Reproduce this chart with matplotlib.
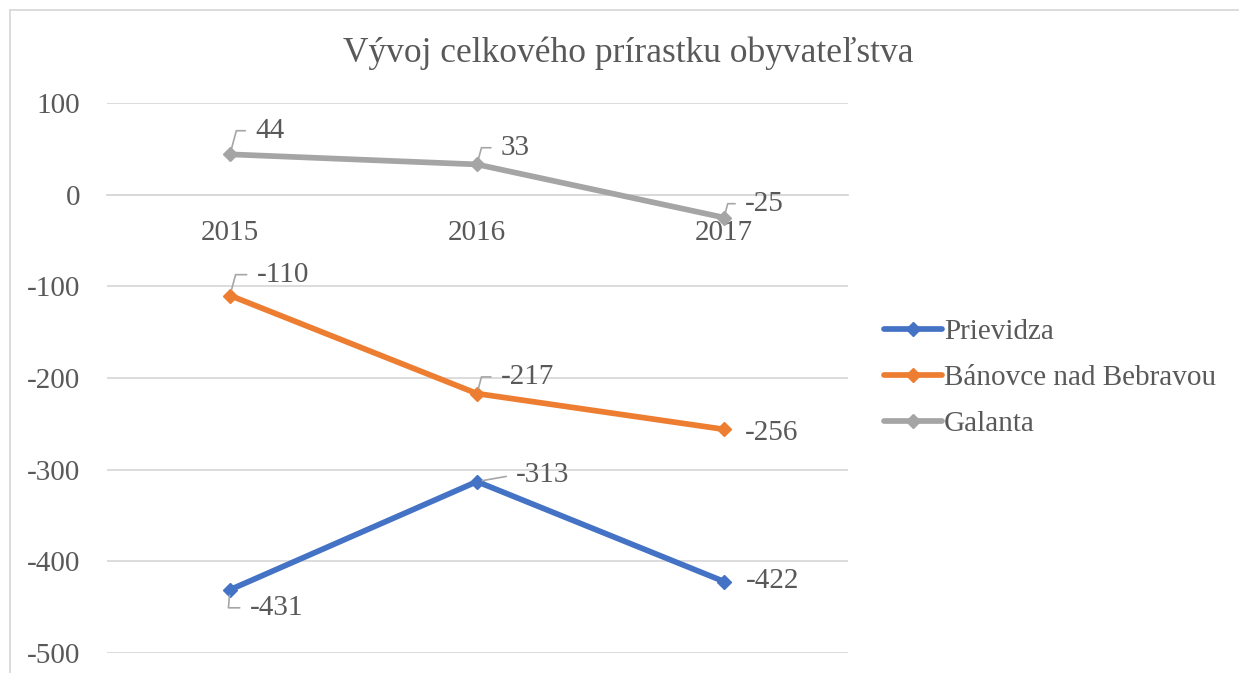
import matplotlib

matplotlib.use("Agg")
import matplotlib.pyplot as plt
from matplotlib.patches import Rectangle

years = ["2015", "2016", "2017"]
prievidza = [-431, -313, -422]
banovce = [-110, -217, -256]
galanta = [44, 33, -25]

series = [
    ("Prievidza", prievidza, "#4472C4"),
    ("Bánovce nad Bebravou", banovce, "#ED7D31"),
    ("Galanta", galanta, "#A5A5A5"),
]

# label offsets (points) and leader angle at the point, None = no leader
label_pos = {
    "Prievidza": [(14, -13, -95), (28, 5, 10), (16, 0, None)],
    "Bánovce nad Bebravou": [(19, 15, 75), (17, 12, 75), (15, -3, None)],
    "Galanta": [(18, 17, 75), (17, 12, 75), (15, 10, 75)],
}

TXT = "#595959"
GRID = "#D9D9D9"
FS = 21
plt.rcParams["font.family"] = ["Liberation Serif", "DejaVu Serif"]
plt.rcParams["axes.unicode_minus"] = False

W, H = 1239, 673
fig = plt.figure(figsize=(W / 100, H / 100), dpi=100)
ax = fig.add_axes([106.5 / W, 20 / H, (847.5 - 106.5) / W, (653 - 103) / H])

x = range(len(years))
for name, vals, col in series:
    ax.plot(x, vals, color=col, lw=4.1, marker="D", ms=7.5, label=name,
            solid_capstyle="round", zorder=3)
    for i, v in enumerate(vals):
        dx, dy, ang = label_pos[name][i]
        props = None
        if ang is not None:
            props = dict(arrowstyle="-", color="#A6A6A6", lw=1.2,
                         connectionstyle=f"angle,angleA=0,angleB={ang},rad=0",
                         relpos=(0, 0.5), shrinkA=5, shrinkB=4)
        ax.annotate(str(v), (i, v), xytext=(dx, dy), textcoords="offset points",
                    ha="left", va="center", fontsize=FS, color=TXT,
                    arrowprops=props, zorder=4)

ax.set_xlim(-0.5, 2.5)
ax.set_ylim(-500, 100)
ax.set_yticks(range(-500, 101, 100))
ax.set_xticks(list(x))
ax.set_xticklabels(years)
ax.yaxis.grid(True, color=GRID, lw=1.3)
ax.set_axisbelow(True)
for s in ["left", "right", "top"]:
    ax.spines[s].set_visible(False)
ax.spines["bottom"].set_position(("data", 0))
ax.spines["bottom"].set_color(GRID)
ax.spines["bottom"].set_linewidth(1.3)
ax.tick_params(axis="both", length=0, labelsize=FS, labelcolor=TXT)
ax.tick_params(axis="y", pad=19)
ax.tick_params(axis="x", pad=18)

fig.text(628 / W, 1 - 53 / H, "Vývoj celkového prírastku obyvateľstva",
         ha="center", va="center", fontsize=25.5, color=TXT)

leg = ax.legend(loc="center left", bbox_to_anchor=(884 / W, 1 - 378 / H),
                bbox_transform=fig.transFigure, frameon=False, fontsize=FS,
                handlelength=2.0, handletextpad=0.05, labelspacing=0.68,
                borderpad=0, borderaxespad=0)
for t in leg.get_texts():
    t.set_color(TXT)

# chart border
fig.patches.append(Rectangle((10 / W, -0.1), 1.2, 1 - 10 / H + 0.1,
                             transform=fig.transFigure, fill=False,
                             edgecolor=GRID, lw=1.3))

fig.savefig("out.png", dpi=100)
